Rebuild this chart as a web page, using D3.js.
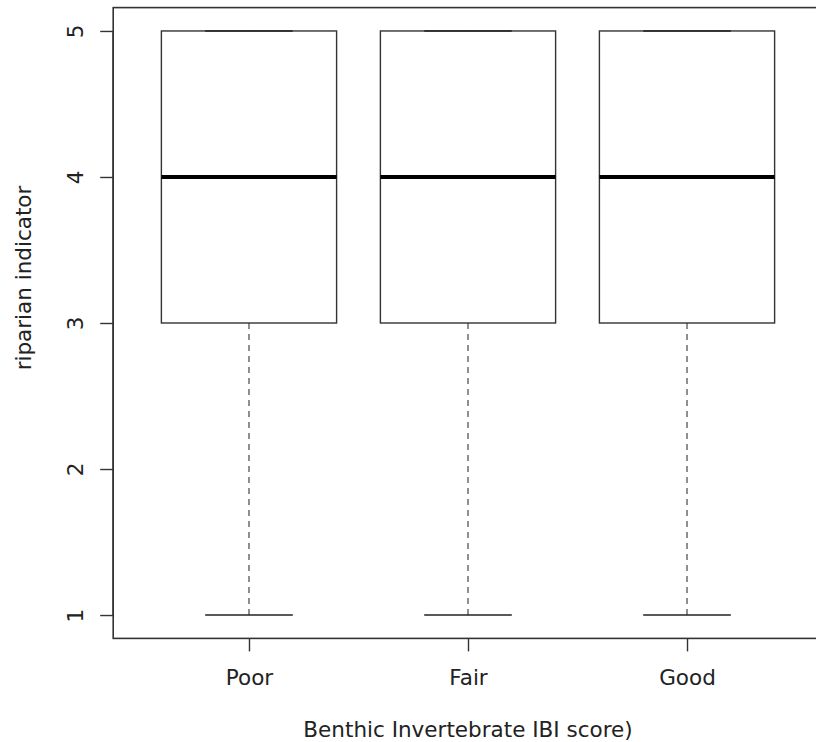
<!DOCTYPE html>
<html><head><meta charset="utf-8">
<script src="https://cdn.jsdelivr.net/npm/d3@7"></script>
<style>body{margin:0;background:#fff}svg{display:block}text{font-family:"DejaVu Sans",sans-serif;fill:#222}</style>
</head><body><svg id="c" width="816" height="742"></svg>
<script>
const categories = ["Poor","Fair","Good"];
const lowerWhisker = [1,1,1];
const q1 = [3,3,3];
const median = [4,4,4];
const q3 = [5,5,5];
const upperWhisker = [5,5,5];
const yTicks = [1,2,3,4,5];
const xLabel = "Benthic Invertebrate IBI score)";
const yLabel = "riparian indicator";

const FS = 21.5;
const svg = d3.select("#c");
const L=113.2, R=822.8, T=7.6, B=638.4;
const x = d3.scaleLinear().domain([0.38,3.62]).range([L,R]);
const y = d3.scaleLinear().domain([0.84,5.16]).range([B,T]);
const bw = 0.8, cw = 0.4;
const col = "#333";

const data = categories.map((c,i)=>({c,i:i+1,lo:lowerWhisker[i],q1:q1[i],med:median[i],q3:q3[i],hi:upperWhisker[i]}));
const g = svg.append("g");
data.forEach(d=>{
  g.append("line").attr("x1",x(d.i)).attr("x2",x(d.i)).attr("y1",y(d.q1)).attr("y2",y(d.lo))
    .attr("stroke","#555").attr("stroke-width",1.3).attr("stroke-dasharray","6,5");
  g.append("line").attr("x1",x(d.i)).attr("x2",x(d.i)).attr("y1",y(d.q3)).attr("y2",y(d.hi))
    .attr("stroke","#555").attr("stroke-width",1.3).attr("stroke-dasharray","6,5");
  g.append("rect").attr("x",x(d.i-bw/2)).attr("y",y(d.q3)).attr("width",x(d.i+bw/2)-x(d.i-bw/2))
    .attr("height",y(d.q1)-y(d.q3)).attr("fill","none").attr("stroke",col).attr("stroke-width",1.4);
  [d.lo,d.hi].forEach(v=>g.append("line").attr("x1",x(d.i-cw/2)).attr("x2",x(d.i+cw/2))
    .attr("y1",y(v)).attr("y2",y(v)).attr("stroke","#222").attr("stroke-width",1.6));
  g.append("line").attr("x1",x(d.i-bw/2)).attr("x2",x(d.i+bw/2)).attr("y1",y(d.med)).attr("y2",y(d.med))
    .attr("stroke","#000").attr("stroke-width",4);
});

svg.append("rect").attr("x",L).attr("y",T).attr("width",R-L).attr("height",B-T)
  .attr("fill","none").attr("stroke",col).attr("stroke-width",1.6);

const ya = svg.append("g").attr("transform",`translate(${L},0)`)
  .call(d3.axisLeft(y).tickValues(yTicks).tickSize(13).tickFormat(d3.format("d")).tickSizeOuter(0));
ya.select(".domain").remove();
ya.selectAll(".tick line").attr("stroke",col).attr("stroke-width",1.4);
ya.selectAll(".tick text").attr("font-size",FS).attr("fill","#222")
  .attr("x",0).attr("y",0).attr("dy","0.36em").attr("text-anchor","middle")
  .attr("transform",`translate(${75-L},0) rotate(-90)`);
ya.append("line").attr("x1",0).attr("x2",0).attr("y1",y(yTicks[0])).attr("y2",y(yTicks[yTicks.length-1])).attr("stroke",col).attr("stroke-width",1.6);

const xa = svg.append("g").attr("transform",`translate(0,${B})`)
  .call(d3.axisBottom(x).tickValues([1,2,3]).tickSize(13).tickFormat((d,i)=>categories[i]).tickSizeOuter(0));
xa.select(".domain").remove();
xa.selectAll(".tick line").attr("stroke",col).attr("stroke-width",1.4);
xa.selectAll(".tick text").attr("font-size",FS).attr("fill","#222").attr("y",677-B).attr("dy","0.36em");

svg.append("text").attr("x",x(2)).attr("y",729).attr("dy","0.36em").attr("text-anchor","middle").attr("font-size",FS).text(xLabel);
svg.append("text").attr("transform",`translate(23,278) rotate(-90)`).attr("dy","0.36em").attr("text-anchor","middle").attr("font-size",FS).text(yLabel);
</script></body></html>
